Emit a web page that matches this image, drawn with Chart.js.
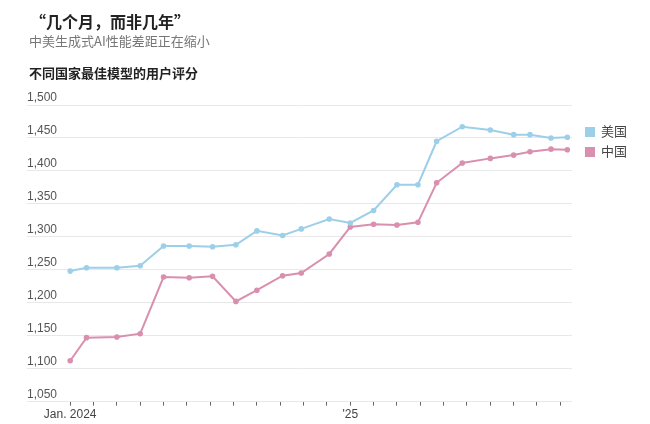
<!DOCTYPE html>
<html><head><meta charset="utf-8">
<script src="https://cdn.jsdelivr.net/npm/chart.js@4"></script>
<style>
body{margin:0;background:#fff;font-family:"Noto Sans CJK SC","Noto Sans",sans-serif;}
#wrap{position:relative;width:650px;height:424px;}
canvas{position:absolute;left:0;top:0;}
.t{position:absolute;white-space:nowrap;}
.lg{position:absolute;font-size:13px;color:#444;}
.lg span{display:inline-block;width:10px;height:10px;margin-right:6px;vertical-align:-1px;}
</style></head><body>
<div id="wrap">
<canvas id="c" width="650" height="424"></canvas>
<div class="t" style="left:30px;top:9px;font-size:16px;font-weight:bold;color:#222;">“几个月，而非几年”</div>
<div class="t" style="left:29px;top:31px;font-size:13px;color:#777;">中美生成式AI性能差距正在缩小</div>
<div class="t" style="left:29px;top:63px;font-size:13px;font-weight:bold;color:#222;">不同国家最佳模型的用户评分</div>
<div class="lg" style="left:585px;top:121px;"><span style="background:#9dcfe9"></span>美国</div>
<div class="lg" style="left:585px;top:141px;"><span style="background:#d98fae"></span>中国</div>
</div>
<script>
const months = [0,0.7,2,3,4,5.1,6.1,7.1,8,9.1,9.9,11.1,12,13,14,14.9,15.7,16.8,18,19,19.7,20.6,21.3];
const usScores = [1248,1253,1253,1256,1286,1286,1285,1288,1309,1302,1312,1327,1321,1340,1379,1379,1445,1467,1462,1455,1455,1450,1451];
const cnScores = [1112,1147,1148,1153,1239,1238,1240,1202,1219,1241,1245,1274,1315,1319,1318,1322,1382,1412,1419,1424,1429,1433,1432];
const tickLabels = {0:'Jan. 2024',12:"'25"};
const yTicks = [1050,1100,1150,1200,1250,1300,1350,1400,1450,1500];
const mk = (xs,ys)=>xs.map((x,i)=>({x,y:ys[i]}));
new Chart(document.getElementById('c'),{
 type:'line',
 data:{datasets:[
  {label:'美国',data:mk(months,usScores),borderColor:'#9dcfe9',backgroundColor:'#9dcfe9',borderWidth:2,pointRadius:1.8,pointHoverRadius:1.8},
  {label:'中国',data:mk(months,cnScores),borderColor:'#d98fae',backgroundColor:'#d98fae',borderWidth:2,pointRadius:1.8,pointHoverRadius:1.8}
 ]},
 options:{responsive:false,animation:false,
  layout:{padding:{top:105,left:27,right:78,bottom:0}},
  plugins:{legend:{display:false},tooltip:{enabled:false}},
  scales:{
   x:{type:'linear',min:-1.85,max:21.5,
     afterBuildTicks:s=>{s.ticks=[];for(let m=0;m<=21;m++)s.ticks.push({value:m});},
     grid:{drawOnChartArea:false,tickLength:4,color:'#666'},border:{display:false},
     ticks:{autoSkip:false,maxRotation:0,padding:2,color:'#444',font:{size:12,family:'Liberation Sans, Arial'},callback:v=>tickLabels[v]||''}},
   y:{min:1050,max:1500,
     afterBuildTicks:s=>{s.ticks=yTicks.map(v=>({value:v}));},
     grid:{color:'#e8e8e8',tickLength:0},border:{display:false},
     ticks:{mirror:true,padding:0,labelOffset:-7,color:'#555',font:{size:12,family:'Liberation Sans, Arial'},callback:v=>v.toLocaleString('en-US')}}
  }}
});
</script></body></html>
